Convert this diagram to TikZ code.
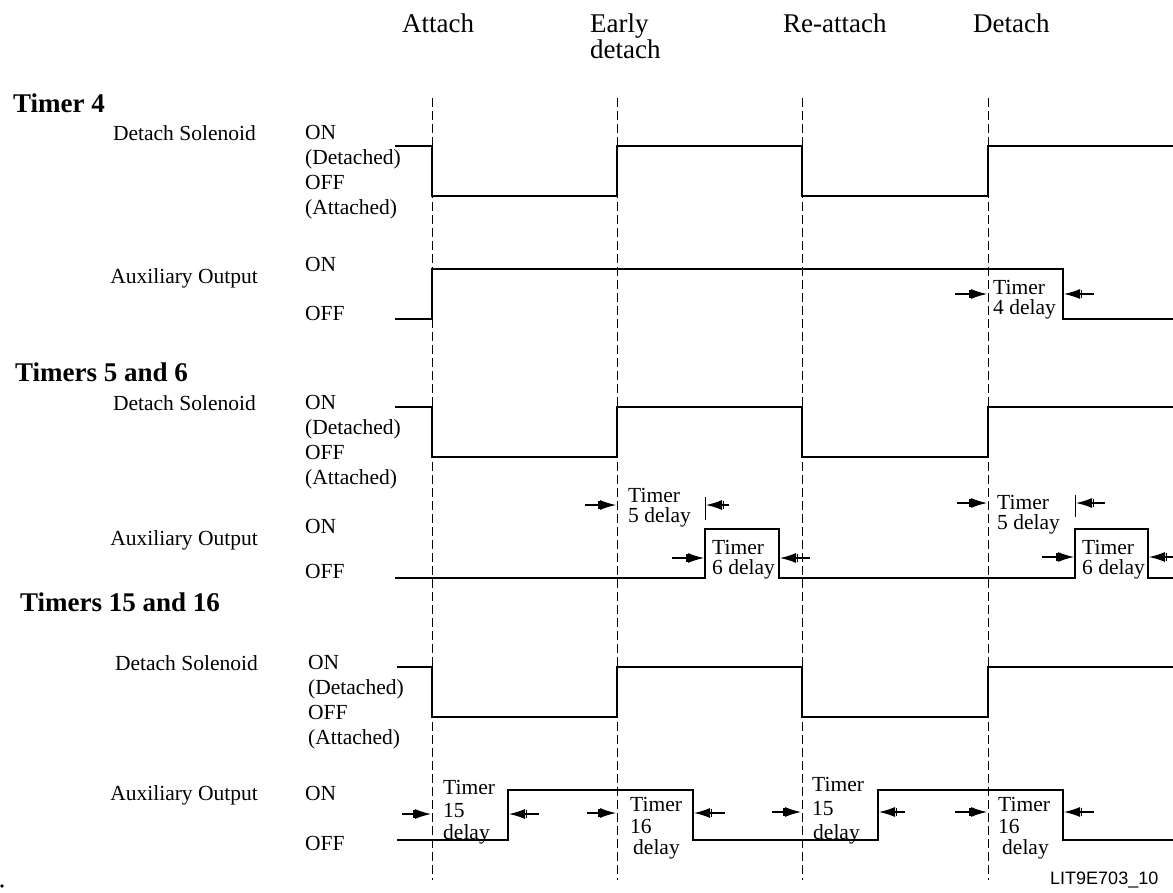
\documentclass[tikz,border=0pt]{standalone}
\usepackage{fontspec}
\setmainfont{Liberation Serif}
\newfontfamily\figsans{Liberation Sans}
\usepackage{tikz}
\usetikzlibrary{arrows.meta,positioning}

\tikzset{
  sig/.style={line width=1.4pt},
  guide/.style={line width=0.9pt,dash pattern=on 9pt off 4pt},
  dly/.style={line width=1.2pt,-{Bar[width=8pt,line width=1.5pt,sep=0.5pt]Latex[length=16pt,width=10pt]}},
  evt/.style={inner sep=0pt,font=\fontsize{27}{23}\selectfont},
  head/.style={inner sep=0pt,anchor=base west,font=\bfseries\fontsize{27}{30}\selectfont},
  txt/.style={inner sep=0pt,font=\fontsize{21.5}{24.8}\selectfont},
  dtxt/.style={inner sep=0pt,align=left,anchor=north west,font=\fontsize{21.5}{#1}\selectfont},
  dtxt/.default=20
}

\begin{document}
\begin{tikzpicture}[x=1pt,y=-1pt]
\useasboundingbox (0,0) rectangle (1173,892);
% events
\node[evt,anchor=base west] (attach) at (402,32) {Attach};
\node[evt,anchor=north west,align=left] (early) at (590,13.6) {Early\\detach};
\node[evt,anchor=base west] (reatt) at (783,32) {Re-attach};
\node[evt,anchor=base west] (detach) at (973,32) {Detach};
\draw[guide] (432,98)--(432,880); \draw[guide] (617,98)--(617,880);
\draw[guide] (802,98)--(802,880); \draw[guide] (988,98)--(988,880);

% Timer 4
\node[head] (h4) at (13,112) {Timer 4};
\node[txt,anchor=base east] (sol4) at (256,140) {Detach Solenoid};
\node[txt,anchor=north west,align=left] (st4) at (305,125.5) {ON\\(Detached)\\OFF\\(Attached)};
\node[txt,anchor=base east] (aux4) at (258,283) {Auxiliary Output};
\node[txt,anchor=base west] (on4) at (305,271) {ON};
\node[txt,anchor=base west] (off4) at (305,320) {OFF};
\draw[sig] (395,146)-|(432,196)-|(617,146)-|(802,196)-|(988,146)--(1173,146);
\draw[sig] (395,319)-|(432,269)-|(1063,319)--(1173,319);
\draw[dly] (955,294)--(987,294); \draw[dly] (1094,294)--(1064,294);
\node[dtxt] (t4d) at (993,280.3) {Timer\\4 delay};

% Timers 5 and 6
\node[head] (h56) at (15,381) {Timers 5 and 6};
\node[txt,anchor=base east] (sol56) at (256,410) {Detach Solenoid};
\node[txt,anchor=north west,align=left] (st56) at (305,395.5) {ON\\(Detached)\\OFF\\(Attached)};
\node[txt,anchor=base east] (aux56) at (258,545) {Auxiliary Output};
\node[txt,anchor=base west] (on56) at (305,533) {ON};
\node[txt,anchor=base west] (off56) at (305,578) {OFF};
\draw[sig] (395,407)-|(432,457)-|(617,407)-|(802,457)-|(988,407)--(1173,407);
\draw[sig] (395,578)-|(705,529)-|(779,578)-|(1075,529)-|(1148,578)--(1173,578);
\draw[line width=1pt] (705,497)--(705,520); \draw[line width=1pt] (1075,495)--(1075,517);
\draw[dly] (585,505)--(616,505); \draw[dly] (729,505)--(706,505);
\draw[dly] (672,558)--(704,558); \draw[dly] (810,558)--(780,558);
\draw[dly] (957,503)--(987,503); \draw[dly] (1105,503)--(1076,503);
\draw[dly] (1042,557)--(1074,557); \draw[dly] (1173,557)--(1149,557);
\node[dtxt] (t5a) at (628,488.3) {Timer\\5 delay};
\node[dtxt] (t6a) at (712,540.3) {Timer\\6 delay};
\node[dtxt] (t5b) at (997,495.3) {Timer\\5 delay};
\node[dtxt] (t6b) at (1082,540.3) {Timer\\6 delay};

% Timers 15 and 16
\node[head] (h1516) at (20,611) {Timers 15 and 16};
\node[txt,anchor=base east] (sol1516) at (258,670) {Detach Solenoid};
\node[txt,anchor=north west,align=left] (st1516) at (308,655.5) {ON\\(Detached)\\OFF\\(Attached)};
\node[txt,anchor=base east] (aux1516) at (258,800) {Auxiliary Output};
\node[txt,anchor=base west] (on1516) at (305,800) {ON};
\node[txt,anchor=base west] (off1516) at (305,850) {OFF};
\draw[sig] (397,667)-|(432,717)-|(617,667)-|(802,717)-|(988,667)--(1173,667);
\draw[sig] (397,840)-|(508,790)-|(693,840)-|(878,790)-|(1063,840)--(1173,840);
\draw[dly] (402,814)--(431,814); \draw[dly] (539,814)--(509,814);
\draw[dly] (587,813)--(616,813); \draw[dly] (725,813)--(694,813);
\draw[dly] (772,812)--(801,812); \draw[dly] (905,812)--(879,812);
\draw[dly] (955,812)--(987,812); \draw[dly] (1094,812)--(1064,812);
\node[dtxt=22.5] (t15a) at (443,780.3) {Timer\\15\\delay};
\node[dtxt=21.5] (t16a) at (630,797.3) {Timer\\16\\\hspace{3pt}delay};
\node[dtxt=24] (t15b) at (812,777.3) {Timer\\15\\\hspace{1pt}delay};
\node[dtxt=21.5] (t16b) at (998,797.3) {Timer\\16\\\hspace{4pt}delay};

\fill (2,886) circle (1.8);
\node[inner sep=0pt,anchor=base west,font=\figsans\fontsize{18}{20}\selectfont] (figid) at (1050,884) {LIT9E703\_10};
\end{tikzpicture}
\end{document}
